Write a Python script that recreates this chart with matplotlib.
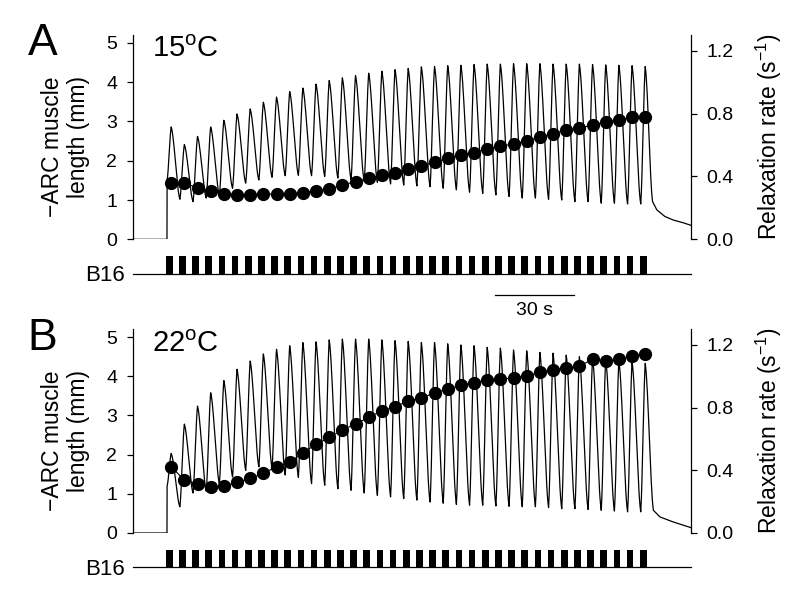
import numpy as np
import matplotlib.pyplot as plt
from matplotlib.transforms import blended_transform_factory

plt.rcParams['font.family'] = ['Liberation Sans', 'DejaVu Sans']
plt.rcParams['mathtext.fontset'] = 'custom'
plt.rcParams['mathtext.rm'] = 'Liberation Sans'
plt.rcParams['mathtext.it'] = 'Liberation Sans:italic'
plt.rcParams['mathtext.bf'] = 'Liberation Sans:bold'

# --- timing (s): one B16 burst every 5 s, 37 bursts ---
period = 5.0
burst_len = 2.5
n_bursts = 37
t_start, t_end = -12.5, 199.2
burst_starts = np.arange(n_bursts) * period
rate_times = burst_starts + 2.0

# --- A: 15 C ---
jump_A = 1.5
peaks_A = [2.86, 2.41, 2.62, 2.86, 3.03, 3.19, 3.32, 3.49, 3.62, 3.76,
           3.85, 3.95, 4.04, 4.11, 4.17, 4.23, 4.28, 4.32, 4.35, 4.39,
           4.40, 4.42, 4.43, 4.45, 4.46, 4.46, 4.47, 4.47, 4.47, 4.46,
           4.46, 4.46, 4.45, 4.44, 4.43, 4.42, 4.40]
troughs_A = [1.02, 0.96, 1.05, 1.13, 1.30, 1.43, 1.51, 1.58, 1.62, 1.63,
             1.62, 1.60, 1.56, 1.52, 1.48, 1.45, 1.41, 1.38, 1.36, 1.34,
             1.30, 1.26, 1.20, 1.17, 1.13, 1.09, 1.05, 1.05, 1.02, 1.00,
             0.96, 0.96, 0.92, 0.92, 0.90, 0.90]
tail_t_A = [184.8, 186.4, 189.5, 192.7, 196.5, 199.2]
tail_v_A = [0.96, 0.75, 0.58, 0.49, 0.42, 0.36]
rate_A = [0.357, 0.357, 0.329, 0.308, 0.289, 0.282, 0.282, 0.286, 0.289, 0.289,
          0.297, 0.308, 0.320, 0.346, 0.367, 0.388, 0.409, 0.424, 0.446, 0.467,
          0.490, 0.516, 0.537, 0.552, 0.575, 0.592, 0.607, 0.626, 0.650, 0.671,
          0.696, 0.707, 0.728, 0.745, 0.760, 0.777, 0.777]

# --- B: 22 C ---
jump_B = 1.2
peaks_B = [2.03, 2.78, 3.24, 3.58, 3.89, 4.18, 4.39, 4.57, 4.69, 4.78,
           4.86, 4.88, 4.93, 4.95, 4.95, 4.95, 4.93, 4.91, 4.89, 4.86,
           4.86, 4.83, 4.80, 4.78, 4.74, 4.72, 4.67, 4.65, 4.61, 4.59,
           4.54, 4.50, 4.46, 4.42, 4.40, 4.37, 4.33]
troughs_B = [0.67, 1.02, 1.07, 1.26, 1.43, 1.60, 1.69, 1.65, 1.48, 1.42,
             1.26, 1.22, 1.13, 1.09, 1.02, 0.96, 0.92, 0.88, 0.84, 0.79,
             0.76, 0.73, 0.71, 0.71, 0.69, 0.68, 0.67, 0.67, 0.65, 0.62,
             0.62, 0.60, 0.58, 0.56, 0.54, 0.54]
tail_t_B = [185.1, 187.6, 192.7, 199.2]
tail_v_B = [0.58, 0.41, 0.28, 0.14]
rate_B = [0.423, 0.338, 0.313, 0.295, 0.300, 0.323, 0.348, 0.380, 0.423, 0.450,
          0.513, 0.565, 0.610, 0.658, 0.695, 0.738, 0.780, 0.805, 0.843, 0.860,
          0.895, 0.918, 0.943, 0.960, 0.978, 0.985, 0.988, 1.003, 1.025, 1.040,
          1.055, 1.065, 1.108, 1.100, 1.108, 1.130, 1.140]


def make_trace(jump, peaks, troughs, tail_t, tail_v):
    # join the read peak / trough values of each contraction cycle
    t = [t_start, 0.4]
    v = [0.0, 0.0]
    lows = [jump] + troughs
    s = np.linspace(0, 1, 16)
    cos_up = (1 - np.cos(np.pi * s)) / 2
    rise = 0.45 * s + 0.55 * cos_up
    fall = 0.35 * (1 - s) + 0.65 * (1 - cos_up)
    for k in range(n_bursts):
        t0 = burst_starts[k] + (0.45 if k == 0 else 0.3)
        tp = rate_times[k]
        t += list(t0 + (tp - t0) * s)
        v += list(lows[k] + (peaks[k] - lows[k]) * rise)
        if k < n_bursts - 1:
            t1, end = burst_starts[k + 1] + 0.3, lows[k + 1]
        else:
            t1, end = tail_t[0], tail_v[0]
        t += list(tp + (t1 - tp) * s[1:])
        v += list(end + (peaks[k] - end) * fall[1:])
    t += tail_t[1:]
    v += tail_v[1:]
    return np.array(t), np.array(v)


fig = plt.figure(figsize=(8, 5.94), dpi=100)

panels = [
    ('A', '15$^{\\mathregular{o}}$C', jump_A, peaks_A, troughs_A, tail_t_A, tail_v_A, rate_A,
     [0.16625, 0.5971, 0.6969, 0.3439], [0.16625, 0.5382, 0.6969, 0.0308], 55, 56.7, 281),
    ('B', '22$^{\\mathregular{o}}$C', jump_B, peaks_B, troughs_B, tail_t_B, tail_v_B, rate_B,
     [0.16625, 0.1027, 0.6969, 0.3429], [0.16625, 0.0460, 0.6969, 0.0281], 350, 351.7, 575),
]

for (letter, temp, jump, pk, tr, tt, tv, rate, rect, srect, ly, ty, by) in panels:
    ax = fig.add_axes(rect)
    t, v = make_trace(jump, pk, tr, tt, tv)
    ax.plot(t, v, color='k', lw=0.9)
    ax.set_xlim(t_start, t_end)
    ax.set_ylim(0, 5.2)
    ax.set_yticks(range(6))
    for sp in ['top', 'bottom', 'right']:
        ax.spines[sp].set_visible(False)
    ax.spines['left'].set_linewidth(0.9)
    ax.set_xticks([])
    ax.tick_params(axis='y', direction='out', length=4.5, width=0.9, pad=7, labelsize=14)
    ax.set_ylabel('\u2212ARC muscle\nlength (mm)', fontsize=16.5, linespacing=1.15,
                  multialignment='right')
    ax.yaxis.set_label_coords(-0.078, 0.455)

    ax2 = ax.twinx()
    ax2.plot(rate_times, rate, '-o', color='k', lw=0.8, ms=8.5)
    ax2.set_ylim(0, 1.3)
    ax2.set_yticks([0.0, 0.4, 0.8, 1.2])
    ax2.set_yticklabels(['0.0', '0.4', '0.8', '1.2'])
    for sp in ['top', 'bottom', 'left']:
        ax2.spines[sp].set_visible(False)
    ax2.spines['right'].set_linewidth(0.9)
    ax2.tick_params(axis='y', direction='out', length=4.5, width=0.9, pad=7, labelsize=14)
    ax2.set_ylabel('Relaxation rate (s$^{-1}$)', fontsize=16.5)
    ax2.yaxis.set_label_coords(1.113, 0.5)

    # B16 stimulus bursts
    axs = fig.add_axes(srect)
    axs.bar(burst_starts, 1, width=burst_len, align='edge', color='k')
    axs.plot([t_start, t_end], [0, 0], color='k', lw=0.9, clip_on=False)
    axs.set_xlim(t_start, t_end)
    axs.set_ylim(0, 1)
    axs.axis('off')

    fig.text(42.5 / 800, 1 - ly / 594, letter, fontsize=32, ha='center', va='baseline')
    fig.text(152 / 800, 1 - ty / 594, temp, fontsize=21, ha='left', va='baseline')
    fig.text(125 / 800, 1 - by / 594, 'B16', fontsize=16, ha='right', va='baseline')

    if letter == 'A':
        tr_blend = blended_transform_factory(axs.transData, fig.transFigure)
        axs.plot([125, 155], [1 - 295 / 594] * 2, color='k', lw=0.9,
                 transform=tr_blend, clip_on=False)
        axs.text(140, 1 - 315 / 594, '30 s', fontsize=14, ha='center', va='baseline',
                 transform=tr_blend)

fig.savefig('out.png', dpi=100)
